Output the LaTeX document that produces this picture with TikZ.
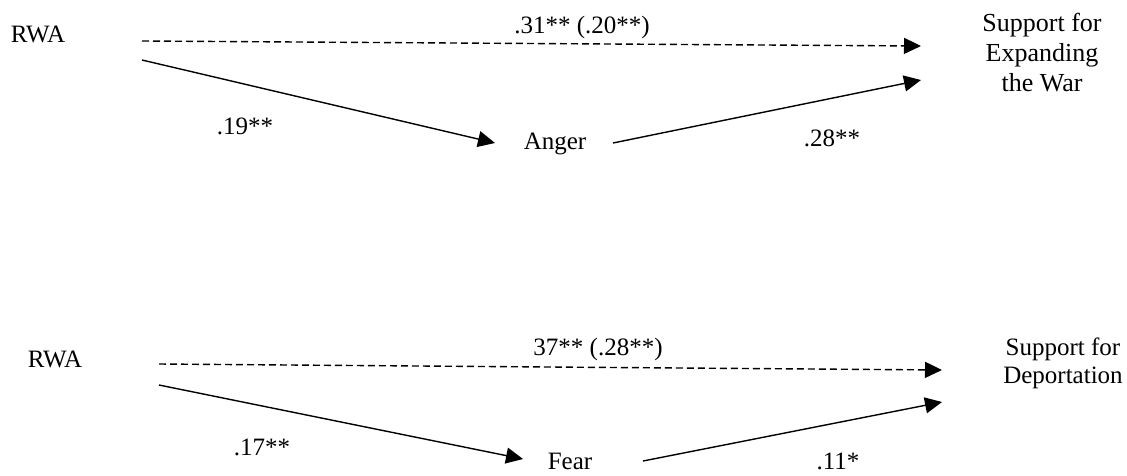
\documentclass[tikz,border=0pt]{standalone}
\usepackage{fontspec}
\setmainfont{Liberation Serif}
\usetikzlibrary{arrows.meta}
\begin{document}
\begin{tikzpicture}[x=1pt,y=-1pt,
  lbl/.style={inner sep=0pt,anchor=base,font=\fontsize{25}{30}\selectfont},
  multi/.style={inner sep=0pt,align=center,anchor=north},
  path/.style={line width=1.4pt,-{Triangle[length=17pt,width=16pt]}},
  indirect/.style={path,dash pattern=on 7pt off 4pt}]
\useasboundingbox (0,0) rectangle (1127,475);
% ---- top model
\node[lbl] (rwa1) at (38,42) {RWA};
\node[lbl] (anger) at (555,149) {Anger};
\node[multi,font=\fontsize{26}{30}\selectfont] (war) at (1042,13) {Support for\\Expanding\\the War};
\coordinate (d1s) at (142,41);
\coordinate (d1e) at (921,46);
\coordinate (a1s) at (142,60);
\coordinate (a1e) at (495,143);
\coordinate (b1s) at (613,143);
\coordinate (b1e) at (921,80);
\draw[indirect] (d1s) -- (d1e);
\draw[path] (a1s) -- (a1e);
\draw[path] (b1s) -- (b1e);
\node[lbl] (c1) at (582,33) {.31** (.20**)};
\node[lbl] (a1) at (245,134) {.19**};
\node[lbl] (b1) at (832,146) {.28**};
% ---- bottom model
\node[lbl] (rwa2) at (55,367) {RWA};
\node[lbl] (fear) at (570,469) {Fear};
\node[multi,font=\fontsize{25}{28}\selectfont] (dep) at (1063,338) {Support for\\Deportation};
\coordinate (d2s) at (159,364);
\coordinate (d2e) at (942,370);
\coordinate (a2s) at (159,385);
\coordinate (a2e) at (523,459);
\coordinate (b2s) at (643,461);
\coordinate (b2e) at (942,402);
\draw[indirect] (d2s) -- (d2e);
\draw[path] (a2s) -- (a2e);
\draw[path] (b2s) -- (b2e);
\node[lbl] (c2) at (598,355) {37** (.28**)};
\node[lbl] (a2) at (262,455) {.17**};
\node[lbl] (b2) at (838,469) {.11*};
\end{tikzpicture}
\end{document}
